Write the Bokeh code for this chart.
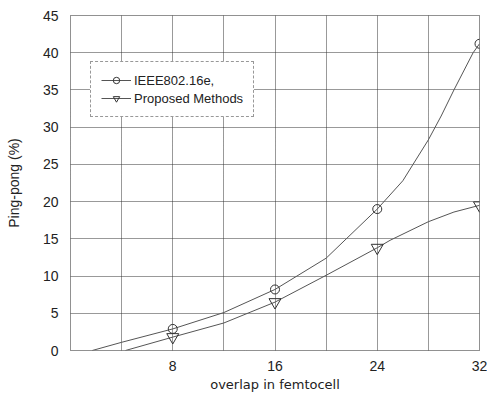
from bokeh.plotting import figure
from bokeh.models import Range1d, FixedTicker, Legend, LegendItem
from bokeh.embed import file_html
from bokeh.resources import INLINE

# marker data
x_pts = [8, 16, 24, 32]
ieee_pts = [2.9, 8.2, 19.0, 41.2]
prop_pts = [1.8, 6.5, 13.8, 19.5]

# smooth fitted curves
ieee_curve_x = [1.7, 4, 8, 12, 16, 20, 24, 26, 26.8, 28, 29, 30, 31.5, 32]
ieee_curve_y = [0, 1.1, 2.9, 5.1, 8.2, 12.4, 19.0, 22.8, 25, 28.3, 31.5, 35, 40, 41.2]
prop_curve_x = [4.3, 8, 12, 16, 20, 24, 25, 28, 30, 32]
prop_curve_y = [0, 1.8, 3.7, 6.5, 10.1, 13.8, 14.8, 17.3, 18.6, 19.5]

x_ticks = [8, 16, 24, 32]
x_grid = [4, 8, 12, 16, 20, 24, 28]
y_ticks = [0, 5, 10, 15, 20, 25, 30, 35, 40, 45]

FONT = "Liberation Sans"
GRID = "#333333"

p = figure(width=487, height=394, output_backend="svg", toolbar_location=None,
           x_range=Range1d(0, 32), y_range=Range1d(0, 45),
           min_border_left=70, min_border_right=8, min_border_top=15, min_border_bottom=42)

p.background_fill_color = "white"
p.border_fill_color = "white"
p.outline_line_color = "#222222"
p.outline_line_dash = "1 1"
p.outline_line_width = 1

p.xaxis.ticker = FixedTicker(ticks=x_ticks)
p.yaxis.ticker = FixedTicker(ticks=y_ticks)
p.xgrid.ticker = FixedTicker(ticks=x_grid)
for g in (p.xgrid, p.ygrid):
    g.grid_line_color = GRID
    g.grid_line_dash = "1 1"
    g.grid_line_width = 1

for ax in (p.xaxis, p.yaxis):
    ax.axis_line_color = None
    ax.major_tick_line_color = None
    ax.minor_tick_line_color = None
    ax.major_tick_out = 0
    ax.major_tick_in = 0
    ax.major_label_text_font = FONT
    ax.major_label_text_font_size = "14px"
    ax.major_label_text_color = "#222222"
    ax.axis_label_text_font_style = "normal"
    ax.axis_label_text_color = "#222222"

p.xaxis.major_label_standoff = 10
p.yaxis.major_label_standoff = 12
p.xaxis.axis_label = "overlap in femtocell"
p.yaxis.axis_label = "Ping-pong (%)"
p.xaxis.axis_label_text_font = "DejaVu Sans"
p.xaxis.axis_label_text_font_size = "13px"
p.yaxis.axis_label_text_font = FONT
p.yaxis.axis_label_text_font_size = "14px"
p.xaxis.axis_label_standoff = 3
p.yaxis.axis_label_standoff = 18

LC = "#555555"
l1 = p.line(ieee_curve_x, ieee_curve_y, line_color=LC, line_width=1)
m1 = p.scatter(x_pts, ieee_pts, marker="circle", size=9, line_color="#333333",
               fill_alpha=0, line_width=1)
l2 = p.line(prop_curve_x, prop_curve_y, line_color=LC, line_width=1)
m2 = p.scatter(x_pts, prop_pts, marker="inverted_triangle", size=12, line_color="#333333",
               fill_alpha=0, line_width=1)

legend = Legend(items=[LegendItem(label="IEEE802.16e,", renderers=[l1, m1]),
                       LegendItem(label="Proposed Methods", renderers=[l2, m2])],
                location=(20, 233))
legend.label_text_font = FONT
legend.label_text_font_size = "13px"
legend.label_text_color = "#222222"
legend.border_line_color = "#333333"
legend.border_line_dash = "1 1"
legend.background_fill_color = "white"
legend.background_fill_alpha = 1
legend.glyph_width = 30
legend.glyph_height = 16
legend.label_height = 16
legend.spacing = 2
legend.padding = 10
legend.margin = 0
legend.label_standoff = 3
p.add_layout(legend)

open("out.html", "w").write(file_html(p, INLINE))
